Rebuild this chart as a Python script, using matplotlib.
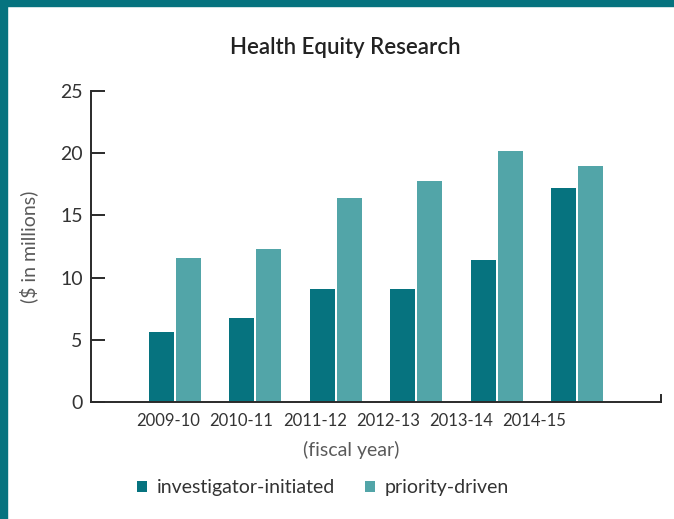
import numpy as np
import matplotlib
matplotlib.use("Agg")
import matplotlib.pyplot as plt
from matplotlib.patches import Rectangle

years = ["2009-10", "2010-11", "2011-12", "2012-13", "2013-14", "2014-15"]
investigator = [5.6, 6.75, 9.1, 9.1, 11.4, 17.2]
priority = [11.6, 12.3, 16.4, 17.8, 20.2, 19.0]

dark = "#06737f"
light = "#52a5a8"
plt.rcParams['font.family'] = ['Lato', 'DejaVu Sans']

fig = plt.figure(figsize=(6.74, 5.19), dpi=100)
# teal frame on left and top
fig.patches.append(Rectangle((0, 0), 7 / 674, 1, transform=fig.transFigure, color=dark, zorder=0))
fig.patches.append(Rectangle((0, 1 - 6 / 519), 1, 6 / 519, transform=fig.transFigure, color=dark, zorder=0))

ax = fig.add_axes([91 / 674, 1 - 402 / 519, 570 / 674, 311 / 519])
x = np.arange(len(years))
w = 0.31
ax.bar(x - 0.168, investigator, w, color=dark, label="investigator-initiated")
ax.bar(x + 0.168, priority, w, color=light, label="priority-driven")

ax.set_xlim(-1.045, 6.045)
ax.set_ylim(0, 25)
ax.set_yticks([0, 5, 10, 15, 20, 25])
# labels sit a bit left of the bar pairs in the original
ax.set_xticks(x * 0.912 - 0.087)
ax.set_xticklabels(years)

ax.spines["top"].set_visible(False)
for s in ["left", "bottom", "right"]:
    ax.spines[s].set_color("#2a2a2a")
    ax.spines[s].set_linewidth(1.4)
ax.spines["right"].set_bounds(0, 0.6)

ax.tick_params(axis="y", direction="in", length=10, width=1.4, color="#2a2a2a",
               labelsize=14, labelcolor="#333333", pad=6)
ax.tick_params(axis="x", length=0, labelsize=12, labelcolor="#333333", pad=8)

ax.set_ylabel("($ in millions)", fontsize=14, color="#5a5a5a")
ax.yaxis.set_label_coords(-0.093, 0.5)
ax.set_xlabel("(fiscal year)", fontsize=14, color="#5a5a5a")
ax.xaxis.set_label_coords(0.456, -0.125)

fig.text(0.512, 1 - 47 / 519, "Health Equity Research", ha="center", va="center",
         fontsize=16, fontweight="semibold", color="#222222")

fig.legend(loc="center", bbox_to_anchor=(323 / 674, 1 - 488 / 519), ncol=2, frameon=False,
           fontsize=14, handlelength=0.55, handleheight=0.55, handletextpad=0.5,
           columnspacing=1.5, labelcolor="#333333")

fig.savefig("out.png", dpi=100)
